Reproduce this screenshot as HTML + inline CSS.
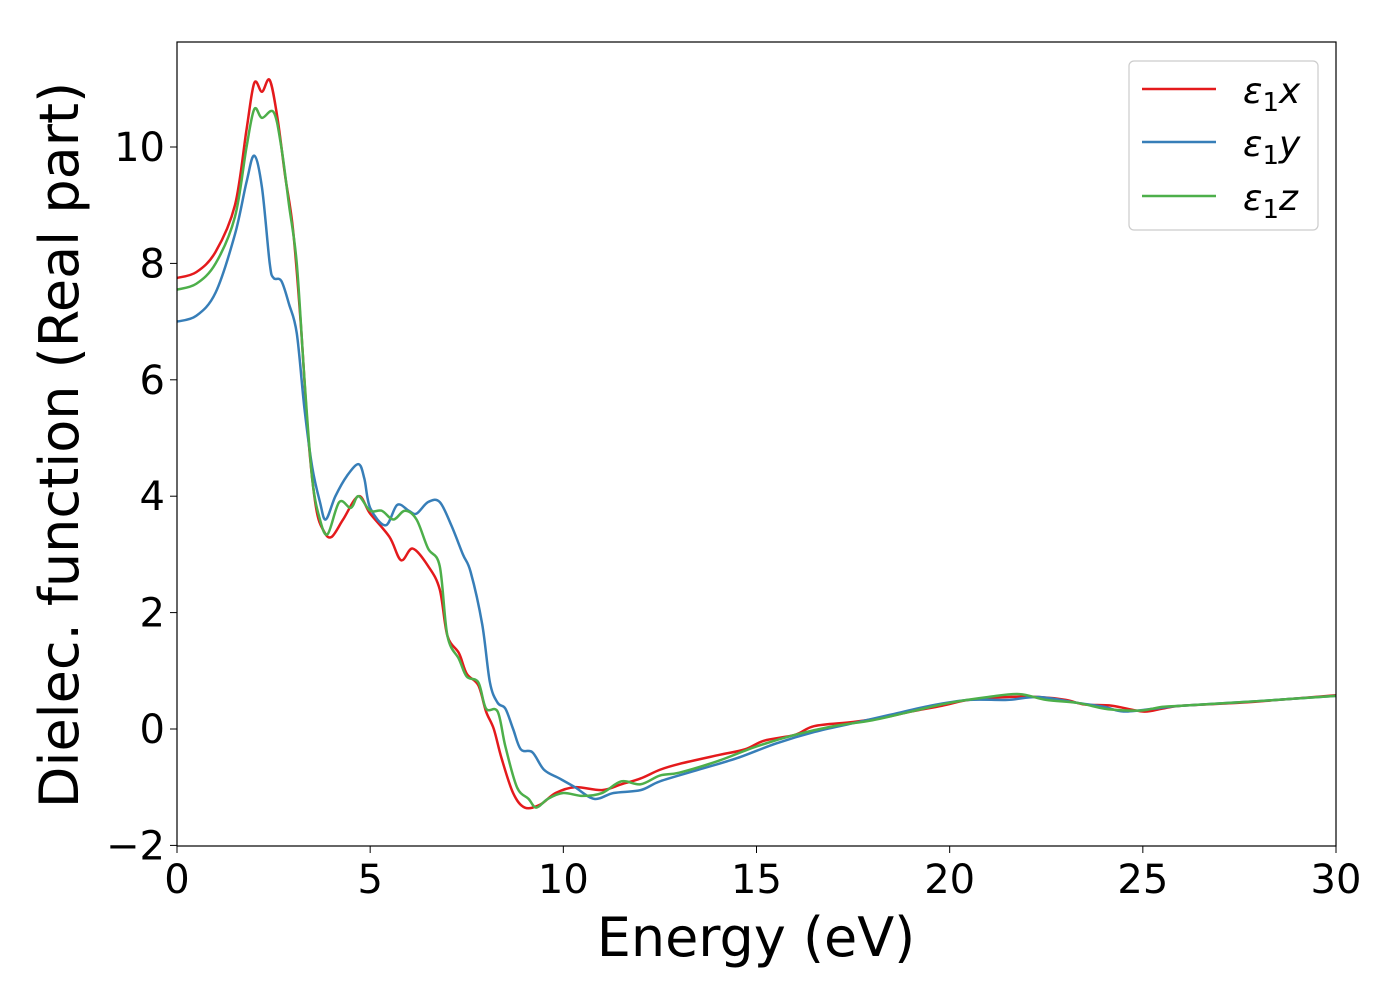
<!DOCTYPE html>
<html><head><meta charset="utf-8"><style>
body{margin:0;background:#fff;}
svg text{font-family:"DejaVu Sans","Liberation Sans",sans-serif;fill:#000;}
</style></head><body>
<svg id="chart" width="1400" height="1000" xmlns="http://www.w3.org/2000/svg">
<g id="series"></g>
<g id="axes"></g>
<rect x="177" y="42" width="1159" height="804" fill="none" stroke="#000" stroke-width="1.2"/>
<text x="756" y="956" font-size="54" text-anchor="middle">Energy (eV)</text>
<text transform="translate(78,445) rotate(-90)" font-size="54" text-anchor="middle">Dielec. function (Real part)</text>
<g>
<rect x="1129" y="61" width="189" height="169" rx="5" fill="#fff" stroke="#ccc" stroke-width="1.2"/>
<line x1="1142" y1="89" x2="1216" y2="89" stroke="#e41a1c" stroke-width="2.5"/>
<text x="1243" y="103" font-size="36" font-style="italic">ε<tspan font-style="normal" font-size="26" dy="8">1</tspan><tspan dy="-8">x</tspan></text>
<line x1="1142" y1="142" x2="1216" y2="142" stroke="#377eb8" stroke-width="2.5"/>
<text x="1243" y="156" font-size="36" font-style="italic">ε<tspan font-style="normal" font-size="26" dy="8">1</tspan><tspan dy="-8">y</tspan></text>
<line x1="1142" y1="196" x2="1216" y2="196" stroke="#4daf4a" stroke-width="2.5"/>
<text x="1243" y="210" font-size="36" font-style="italic">ε<tspan font-style="normal" font-size="26" dy="8">1</tspan><tspan dy="-8">z</tspan></text>
</g>
</svg>
<script>
const xTicks=[0,5,10,15,20,25,30];
const yTicks=[-2,0,2,4,6,8,10];
const yTickLabels=["−2","0","2","4","6","8","10"];
const xE=[0,0.5,1,1.5,1.8,2.0,2.2,2.4,2.6,2.8,3.0,3.2,3.4,3.6,3.8,4.0,4.3,4.7,5.0,5.5,5.8,6.1,6.5,6.8,7.0,7.3,7.5,7.8,8.0,8.2,8.4,8.7,9.0,9.4,9.8,10.3,11,11.5,12,12.5,13,14,14.7,15.2,16,16.5,17.5,18.3,19,19.8,20.5,21.5,22.3,23,23.5,24.2,25,25.5,26,27.5,28.5,30];
const xV=[7.75,7.85,8.2,9.0,10.3,11.1,10.95,11.15,10.5,9.5,8.6,7.0,5.0,3.8,3.4,3.3,3.6,4.0,3.7,3.3,2.9,3.1,2.8,2.4,1.6,1.3,0.95,0.75,0.3,0.0,-0.5,-1.1,-1.35,-1.3,-1.1,-1.0,-1.05,-0.95,-0.85,-0.7,-0.6,-0.45,-0.35,-0.2,-0.1,0.05,0.12,0.2,0.3,0.4,0.5,0.55,0.55,0.5,0.42,0.4,0.3,0.35,0.4,0.45,0.5,0.58];
const yE=[0,0.5,1,1.5,1.8,2.0,2.2,2.4,2.5,2.7,2.9,3.1,3.3,3.5,3.7,3.85,4.1,4.4,4.7,4.85,5.0,5.4,5.7,6.0,6.2,6.5,6.8,7.1,7.4,7.6,7.9,8.1,8.3,8.5,8.7,8.9,9.2,9.5,9.9,10.3,10.8,11.3,12,12.5,13.5,14.5,15.5,16.5,17.5,18.5,19.5,20.5,21.5,22.3,23.3,24.0,24.5,25.3,26,28,30];
const yV=[7.0,7.1,7.5,8.5,9.4,9.85,9.3,8.0,7.75,7.7,7.3,6.8,5.5,4.5,3.9,3.6,4.0,4.35,4.55,4.3,3.8,3.5,3.85,3.75,3.7,3.9,3.9,3.5,3.0,2.7,1.8,0.8,0.45,0.35,0.0,-0.35,-0.4,-0.7,-0.85,-1.0,-1.2,-1.1,-1.05,-0.9,-0.7,-0.5,-0.25,-0.05,0.1,0.25,0.4,0.5,0.5,0.55,0.45,0.38,0.3,0.35,0.4,0.48,0.57];
const zE=[0,0.5,1,1.5,1.8,2.0,2.2,2.5,2.7,2.9,3.1,3.3,3.5,3.7,3.9,4.2,4.5,4.7,5.0,5.3,5.6,5.9,6.2,6.5,6.8,7.0,7.3,7.5,7.8,8.0,8.3,8.5,8.8,9.1,9.3,9.6,10,10.5,11,11.5,12,12.5,13,14,15,16,17,18,19,20,21,21.8,22.5,23.3,24,24.5,25,25.5,26,28,30];
const zV=[7.55,7.65,8.0,8.8,10.0,10.65,10.5,10.6,10.0,9.0,8.0,6.0,4.3,3.6,3.35,3.9,3.8,4.0,3.75,3.75,3.6,3.75,3.6,3.1,2.8,1.6,1.2,0.9,0.8,0.35,0.3,-0.3,-1.0,-1.2,-1.35,-1.2,-1.1,-1.15,-1.1,-0.9,-0.95,-0.8,-0.75,-0.55,-0.3,-0.1,0.05,0.15,0.3,0.45,0.55,0.6,0.5,0.45,0.35,0.32,0.32,0.38,0.4,0.48,0.57];
const X0=177,X1=1336,Y0=729,PY=58.2;
const sx=v=>X0+(v/30)*(X1-X0);
const sy=v=>Y0-v*PY;
const NS='http://www.w3.org/2000/svg';
const axes=document.getElementById('axes');
xTicks.forEach(t=>{
  const l=document.createElementNS(NS,'line');
  
  
  l.setAttribute('x1',sx(t));l.setAttribute('x2',sx(t));l.setAttribute('y1',846);l.setAttribute('y2',853);l.setAttribute('stroke','#000');
  axes.appendChild(l);
  const tx=document.createElementNS(NS,'text');
  
  
  tx.setAttribute('x',sx(t));tx.setAttribute('y',893);tx.setAttribute('font-size','40');tx.setAttribute('text-anchor','middle');
  tx.textContent=t;axes.appendChild(tx);
});
yTicks.forEach((t,i)=>{
  const l=document.createElementNS(NS,'line');
  
  
  l.setAttribute('x1',170);l.setAttribute('x2',177);l.setAttribute('y1',sy(t));l.setAttribute('y2',sy(t));l.setAttribute('stroke','#000');
  axes.appendChild(l);
  const tx=document.createElementNS(NS,'text');
  
  
  tx.setAttribute('x',165);tx.setAttribute('y',sy(t)+14);tx.setAttribute('font-size','40');tx.setAttribute('text-anchor','end');
  tx.textContent=yTickLabels[i];axes.appendChild(tx);
});
function pathFor(E,V){
  const p=E.map((e,i)=>[sx(e),sy(V[i])]);
  let d='M'+p[0][0]+','+p[0][1];
  for(let i=0;i<p.length-1;i++){
    const a=p[Math.max(0,i-1)],b=p[i],c=p[i+1],e=p[Math.min(p.length-1,i+2)];
    const c1=[b[0]+(c[0]-a[0])/6,b[1]+(c[1]-a[1])/6];
    const c2=[c[0]-(e[0]-b[0])/6,c[1]-(e[1]-b[1])/6];
    d+=` C${c1[0]},${c1[1]} ${c2[0]},${c2[1]} ${c[0]},${c[1]}`;
  }
  return d;
}
const g=document.getElementById('series');
[[xE,xV,'#e41a1c','series-eps1-x'],[yE,yV,'#377eb8','series-eps1-y'],[zE,zV,'#4daf4a','series-eps1-z']].forEach(s=>{
  const p=document.createElementNS(NS,'path');
  
  
  p.setAttribute('d',pathFor(s[0],s[1]));p.setAttribute('fill','none');p.setAttribute('stroke',s[2]);p.setAttribute('stroke-width','2.5');
  g.appendChild(p);
});
</script>
</body></html>
